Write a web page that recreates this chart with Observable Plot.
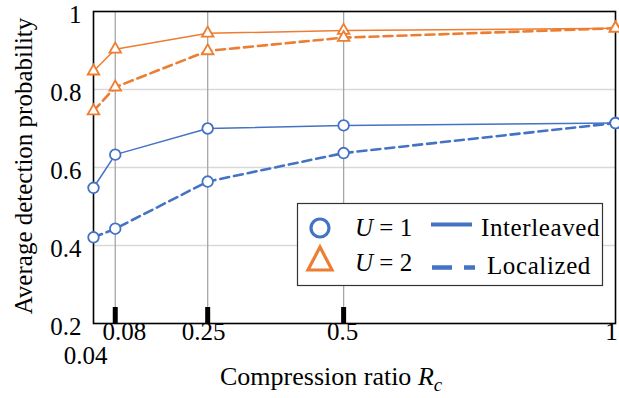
<!DOCTYPE html>
<html>
<head>
<meta charset="utf-8">
<script src="https://cdn.jsdelivr.net/npm/d3@7"></script>
<script src="https://cdn.jsdelivr.net/npm/@observablehq/plot@0.6"></script>
<style>
  html, body { margin: 0; padding: 0; background: #fff; }
  #wrap { position: relative; width: 619px; height: 398px; overflow: hidden; font-family: "Liberation Serif", "DejaVu Serif", serif; }
  #overlay { position: absolute; left: 0; top: 0; pointer-events: none; }
</style>
</head>
<body>
<div id="wrap"></div>
<script>
// ---- data ----
const compressionRatios = [0.04, 0.08, 0.25, 0.5, 1];
const u1Interleaved = [0.548, 0.633, 0.700, 0.708, 0.714];
const u1Localized   = [0.421, 0.443, 0.564, 0.637, 0.714];
const u2Interleaved = [0.847, 0.903, 0.944, 0.951, 0.957];
const u2Localized   = [0.745, 0.806, 0.899, 0.933, 0.957];
const yTicks = [0.2, 0.4, 0.6, 0.8, 1];
const xGridTicks = [0.08, 0.25, 0.5];
const yGridTicks = [0.4, 0.6, 0.8];
const seriesUsers = [1, 2];
const layouts = ["Interleaved", "Localized"];
const colors = ["#4472C4", "#ED7D31"];

const rows = [];
const seriesDefs = [
  {U: 1, layout: "Interleaved", values: u1Interleaved},
  {U: 1, layout: "Localized", values: u1Localized},
  {U: 2, layout: "Interleaved", values: u2Interleaved},
  {U: 2, layout: "Localized", values: u2Localized}
];
for (const s of seriesDefs) {
  compressionRatios.forEach((x, i) => rows.push({x, y: s.values[i], U: s.U, layout: s.layout}));
}
const sel = (U, layout) => rows.filter(d => d.U === U && d.layout === layout);

const font = "Liberation Serif";
const chart = Plot.plot({
  width: 619,
  height: 398,
  marginLeft: 93,
  marginRight: 4,
  marginTop: 11,
  marginBottom: 75,
  style: {fontFamily: font, fontSize: "25px", color: "black", background: "white", overflow: "visible"},
  x: {domain: [0.04, 1], axis: null},
  y: {domain: [0.2, 1], axis: null},
  color: {domain: seriesUsers, range: colors},
  marks: [
    Plot.gridY(yGridTicks, {stroke: "#d9d9d9", strokeOpacity: 1, strokeWidth: 1.3}),
    Plot.gridX(xGridTicks, {stroke: "#a6a6a6", strokeOpacity: 1, strokeWidth: 1.3}),
    Plot.ruleX(xGridTicks, {x: d => d, y1: 0.2, y2: 0.2, insetTop: -16, stroke: "black", strokeWidth: 5}),
    Plot.frame({stroke: "black", strokeWidth: 1.6}),
    Plot.axisY(yTicks, {tickSize: 0, tickPadding: 12, fontSize: 25, dy: 3, label: null, tickFormat: d => String(d)}),
    Plot.text([0.04], {x: d => d, frameAnchor: "bottom", dy: 40, dx: -8, text: d => String(d), fontSize: 25, fill: "black"}),
    Plot.text([0.08], {x: d => d, frameAnchor: "bottom", dy: 16, dx: 9, text: d => String(d), fontSize: 25, fill: "black"}),
    Plot.text([0.25], {x: d => d, frameAnchor: "bottom", dy: 16, dx: -4, text: d => String(d), fontSize: 25, fill: "black"}),
    Plot.text([0.5], {x: d => d, frameAnchor: "bottom", dy: 16, dx: -1, text: d => String(d), fontSize: 25, fill: "black"}),
    Plot.text([1], {x: d => d, frameAnchor: "bottom", dy: 16, dx: -4, text: d => String(d), fontSize: 25, fill: "black"}),
    Plot.line(sel(1, "Interleaved"), {x: "x", y: "y", stroke: "U", strokeWidth: 1.5}),
    Plot.line(sel(1, "Localized"), {x: "x", y: "y", stroke: "U", strokeWidth: 2.6, strokeDasharray: "9,5"}),
    Plot.line(sel(2, "Interleaved"), {x: "x", y: "y", stroke: "U", strokeWidth: 1.5}),
    Plot.line(sel(2, "Localized"), {x: "x", y: "y", stroke: "U", strokeWidth: 2.6, strokeDasharray: "9,5"}),
    Plot.dot(rows.filter(d => d.U === 1), {x: "x", y: "y", stroke: "U", fill: "white", r: 5.3, strokeWidth: 1.8, symbol: "circle"}),
    Plot.dot(rows.filter(d => d.U === 2), {x: "x", y: "y", stroke: "U", fill: "white", r: 4.3, strokeWidth: 1.8, symbol: "triangle"})
  ]
});
document.getElementById("wrap").appendChild(chart);

// ---- titles and legend (overlay) ----
const ov = d3.select("#wrap").append("svg")
  .attr("id", "overlay").attr("width", 619).attr("height", 398)
  .attr("font-family", font).attr("font-size", 25).attr("fill", "black");

// y-axis title
ov.append("text")
  .attr("transform", "translate(32,166) rotate(-90)")
  .attr("text-anchor", "middle")
  .text("Average detection probability");

// x-axis title
const xt = ov.append("text").attr("x", 220).attr("y", 385).attr("font-size", 26);
xt.append("tspan").text("Compression ratio ");
xt.append("tspan").attr("font-style", "italic").text("R");
xt.append("tspan").attr("font-style", "italic").attr("font-size", 19).attr("dy", 6).text("c");

// legend
const lg = ov.append("g");
lg.append("rect").attr("x", 297.5).attr("y", 203.5).attr("width", 305).attr("height", 82)
  .attr("fill", "white").attr("stroke", "#333").attr("stroke-width", 1.2);
lg.append("circle").attr("cx", 320).attr("cy", 228).attr("r", 9)
  .attr("fill", "white").attr("stroke", colors[0]).attr("stroke-width", 3.2);
lg.append("path").attr("d", "M320,247 L332,270 L308,270 Z")
  .attr("fill", "white").attr("stroke", colors[1]).attr("stroke-width", 3.2).attr("stroke-linejoin", "miter");
const u1 = lg.append("text").attr("x", 355).attr("y", 236);
u1.append("tspan").attr("font-style", "italic").text("U");
u1.append("tspan").text(" = " + seriesUsers[0]);
const u2 = lg.append("text").attr("x", 355).attr("y", 271);
u2.append("tspan").attr("font-style", "italic").text("U");
u2.append("tspan").text(" = " + seriesUsers[1]);
lg.append("line").attr("x1", 431).attr("x2", 472).attr("y1", 224.5).attr("y2", 224.5)
  .attr("stroke", colors[0]).attr("stroke-width", 4);
lg.append("line").attr("x1", 432).attr("x2", 475).attr("y1", 267.5).attr("y2", 267.5)
  .attr("stroke", colors[0]).attr("stroke-width", 4.5).attr("stroke-dasharray", "20,12");
lg.append("text").attr("x", 481).attr("y", 236).attr("letter-spacing", 0.6).text(layouts[0]);
lg.append("text").attr("x", 487).attr("y", 274).attr("letter-spacing", 0.6).text(layouts[1]);
</script>
</body>
</html>
